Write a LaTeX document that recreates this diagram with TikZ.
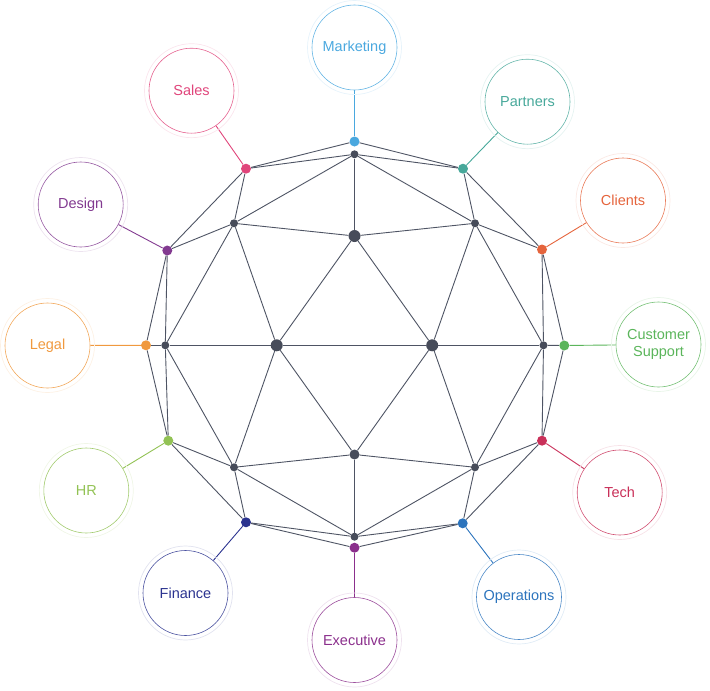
\documentclass[tikz,border=0pt]{standalone}
\usepackage{fontspec}
\setmainfont{Liberation Sans}
\usetikzlibrary{backgrounds}
\definecolor{cmk}{HTML}{4AA8DF}
\definecolor{csa}{HTML}{E0457B}
\definecolor{cpa}{HTML}{47A89A}
\definecolor{cde}{HTML}{823A90}
\definecolor{ccl}{HTML}{E5643C}
\definecolor{clg}{HTML}{F0993E}
\definecolor{ccs}{HTML}{5BB55B}
\definecolor{chr}{HTML}{92C254}
\definecolor{cte}{HTML}{C93059}
\definecolor{cfi}{HTML}{2B338F}
\definecolor{cop}{HTML}{2C74BD}
\definecolor{cex}{HTML}{8B2F8C}
\definecolor{ngrey}{HTML}{474C5A}
\definecolor{egrey}{HTML}{4E5464}
\tikzset{
  gdot/.style={circle, fill=ngrey, inner sep=0pt, minimum size=#1},
  gdot/.default=8pt,
  cdot/.style={circle, fill=#1, inner sep=0pt, minimum size=10pt},
  bubble/.style={circle, draw=#1!85, line width=0.6pt, text=#1, minimum size=85pt,
    inner sep=0pt, align=center, font=\fontsize{14.5}{17}\selectfont},
  ring/.style={draw=#1!14, line width=0.7pt},
  link/.style={draw=#1, line width=0.9pt},
  edge/.style={draw=egrey, line width=0.9pt}
}
\begin{document}
\begin{tikzpicture}[x=1pt,y=-1pt]
\useasboundingbox (0,0) rectangle (710,691);
% grey hub nodes
\node[gdot] (t)  at (354.5,154.3) {};
\node[gdot] (ul) at (234,223.3) {};
\node[gdot] (ur) at (475,223.3) {};
\node[gdot=12pt] (b1) at (354.5,236) {};
\node[gdot] (l)  at (165.3,345.3) {};
\node[gdot=12pt] (bl) at (276.7,345.3) {};
\node[gdot=12pt] (br) at (432.2,345.3) {};
\node[gdot] (r)  at (543.5,345.3) {};
\node[gdot] (ll) at (234,467.3) {};
\node[gdot=10pt] (mb) at (354.5,454.5) {};
\node[gdot] (lr) at (475,467.3) {};
\node[gdot] (bs) at (354.5,536.7) {};
% coloured dots, bubbles and their links
\foreach \n/\dx/\dy/\cx/\cy/\col/\txt in {
  mk/354.5/141.5/354.5/47.5/cmk/Marketing,
  sa/246/168.7/191.5/90.7/csa/Sales,
  pa/463/168.7/527.5/101.7/cpa/Partners,
  de/167.3/250.5/80.7/204.5/cde/Design,
  cl/542/249.5/623/200.5/ccl/Clients,
  lg/146/345.3/47.5/345.5/clg/Legal,
  cs/564.3/345.5/658.5/344.5/ccs/{Customer\\Support},
  hr/168.3/440.7/86.3/490.5/chr/HR,
  te/542/440.7/619.7/492.5/cte/Tech,
  fi/246/522.3/185.5/593/cfi/Finance,
  op/462.7/523.3/519/597/cop/Operations,
  ex/354.5/547.7/354.5/640/cex/Executive}{
  \node[bubble=\col] (\n c) at (\cx,\cy) {\txt};
  \draw[ring=\col] (\n c.center) circle (47pt);
  \node[cdot=\col] (\n) at (\dx,\dy) {};
  \begin{pgfonlayer}{background}
    \draw[link=\col] (\n) -- (\n c);
  \end{pgfonlayer}
}
% dome edges
\begin{pgfonlayer}{background}
\foreach \a/\b in {mk/sa, mk/pa, t/sa, t/pa, t/b1, t/ul, t/ur,
  sa/ul, sa/de, pa/ur, pa/cl,
  ul/b1, ur/b1, ul/de, ur/cl,
  ul/l, ul/bl, b1/bl, b1/br, ur/br, ur/r,
  de/l, de/lg, cl/r, cl/cs,
  lg/l, l/bl, bl/br, br/r, r/cs,
  lg/hr, l/hr, r/te, cs/te,
  l/ll, bl/ll, bl/mb, br/mb, br/lr, r/lr,
  hr/ll, te/lr, ll/mb, mb/lr,
  hr/fi, ll/fi, ll/bs, mb/bs, lr/bs, lr/op, te/op,
  fi/bs, fi/ex, op/bs, op/ex}{
  \draw[edge] (\a) -- (\b);
}
\end{pgfonlayer}
\end{tikzpicture}
\end{document}
